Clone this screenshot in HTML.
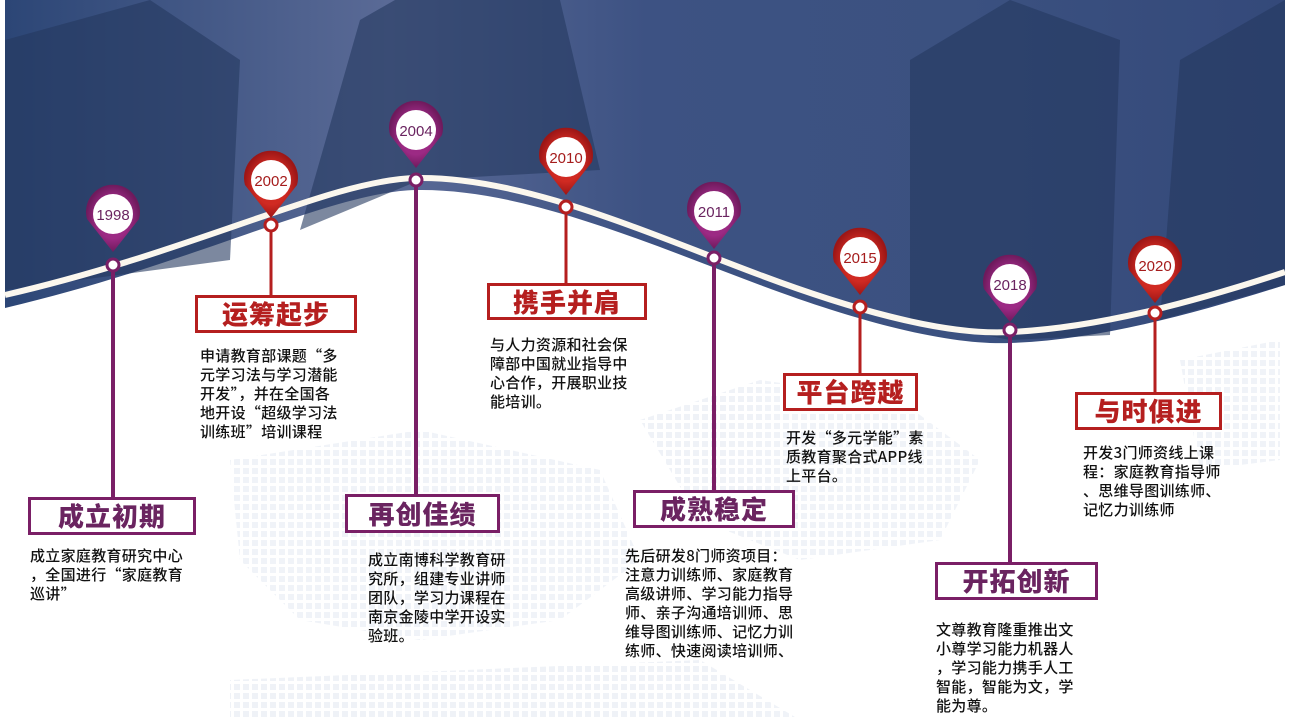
<!DOCTYPE html>
<html><head><meta charset="utf-8"><style>
body{margin:0;width:1289px;height:728px;overflow:hidden;background:#fff;font-family:"Noto Sans CJK SC",sans-serif;}
svg{position:absolute;left:0;top:0}
.t{position:absolute;font-size:15px;line-height:19px;color:#111;font-weight:500;white-space:nowrap;letter-spacing:0.3px}
.b{position:absolute;box-sizing:border-box;border:3px solid;background:#fff;font-size:26px;font-weight:900;text-align:center;letter-spacing:1px;font-family:"Noto Sans CJK SC",sans-serif}
.p{border-color:#7a1f66;color:#6a2460}.r{border-color:#b51f1f;color:#b51f1f}
</style></head><body>
<svg width="1289" height="728">
<defs>
<linearGradient id="bg" x1="0" y1="0" x2="1" y2="0">
<stop offset="0" stop-color="#2c4676"/><stop offset="0.3" stop-color="#5a6a96"/><stop offset="0.5" stop-color="#3d5283"/><stop offset="0.75" stop-color="#3b5180"/><stop offset="1" stop-color="#34497a"/></linearGradient>
<radialGradient id="pg"><stop offset="0.6" stop-color="#9c2a84"/><stop offset="1" stop-color="#6e1a5c"/></radialGradient>
<radialGradient id="rg"><stop offset="0.6" stop-color="#d02a22"/><stop offset="1" stop-color="#9c1616"/></radialGradient>
<pattern id="dots" width="9" height="9" patternUnits="userSpaceOnUse"><rect width="6" height="6" fill="#e6ebf3"/></pattern>
</defs>
<g fill="url(#dots)" opacity="0.6">
<path d="M230,460 L420,430 L600,470 L640,560 L560,620 L420,640 L300,620 L240,560 Z"/>
<path d="M640,420 L760,380 L900,400 L980,460 L940,540 L800,560 L700,520 Z"/>
<path d="M1180,360 L1280,340 L1280,460 L1200,470 Z"/>
<path d="M230,680 L700,660 L800,720 L230,720 Z"/>
</g>
<path d="M5,0 H1285 V285 C1200,312 1100,340 1010,343 C960,345 880,330 760,285 C640,240 520,188 416,190 C330,192 200,262 5,308 Z" fill="url(#bg)"/>
<g fill="#24395f" opacity="0.6">
<polygon points="5,40 150,0 240,60 230,260 5,290"/>
<polygon points="360,20 395,0 560,0 600,170 420,180 300,230"/>
<polygon points="910,60 1010,0 1120,40 1110,335 1010,340 910,320"/>
<polygon points="1180,60 1285,0 1285,285 1160,320"/>
</g>
<path d="M5,295 C200,250 330,180 416,178 C520,176 640,230 760,275 C880,320 960,335 1010,332 C1100,328 1200,300 1285,272" fill="none" stroke="#fbf7ee" stroke-width="6"/>
<g stroke-width="4">
<line x1="113" y1="265" x2="113" y2="497" stroke="#7a1f66"/>
<line x1="271" y1="225" x2="271" y2="295" stroke="#b51f1f" stroke-width="3"/>
<line x1="416" y1="180" x2="416" y2="494" stroke="#7a1f66"/>
<line x1="566" y1="207" x2="566" y2="283" stroke="#b51f1f" stroke-width="3"/>
<line x1="714" y1="258" x2="714" y2="490" stroke="#7a1f66"/>
<line x1="860" y1="307" x2="860" y2="373" stroke="#b51f1f" stroke-width="3"/>
<line x1="1010" y1="330" x2="1010" y2="562" stroke="#7a1f66"/>
<line x1="1155" y1="313" x2="1155" y2="392" stroke="#b51f1f" stroke-width="3"/>
</g>
<g font-family="Liberation Sans,sans-serif" font-size="15" text-anchor="middle">
<g transform="translate(113,214)"><path d="M-26,5 A27,27 0 1 1 26,5 L0,38 Z" fill="url(#pg)"/><circle r="20" fill="#fff"/><text y="6" fill="#6a2460">1998</text></g>
<g transform="translate(271,180)"><path d="M-26,5 A27,27 0 1 1 26,5 L0,38 Z" fill="url(#rg)"/><circle r="20" fill="#fff"/><text y="6" fill="#a51c1c">2002</text></g>
<g transform="translate(416,130)"><path d="M-26,5 A27,27 0 1 1 26,5 L0,38 Z" fill="url(#pg)"/><circle r="20" fill="#fff"/><text y="6" fill="#6a2460">2004</text></g>
<g transform="translate(566,157)"><path d="M-26,5 A27,27 0 1 1 26,5 L0,38 Z" fill="url(#rg)"/><circle r="20" fill="#fff"/><text y="6" fill="#a51c1c">2010</text></g>
<g transform="translate(714,211)"><path d="M-26,5 A27,27 0 1 1 26,5 L0,38 Z" fill="url(#pg)"/><circle r="20" fill="#fff"/><text y="6" fill="#6a2460">2011</text></g>
<g transform="translate(860,257)"><path d="M-26,5 A27,27 0 1 1 26,5 L0,38 Z" fill="url(#rg)"/><circle r="20" fill="#fff"/><text y="6" fill="#a51c1c">2015</text></g>
<g transform="translate(1010,284)"><path d="M-26,5 A27,27 0 1 1 26,5 L0,38 Z" fill="url(#pg)"/><circle r="20" fill="#fff"/><text y="6" fill="#6a2460">2018</text></g>
<g transform="translate(1155,265)"><path d="M-26,5 A27,27 0 1 1 26,5 L0,38 Z" fill="url(#rg)"/><circle r="20" fill="#fff"/><text y="6" fill="#a51c1c">2020</text></g>
</g>
<g fill="#fff" stroke-width="3">
<circle cx="113" cy="265" r="6" stroke="#7a1f66"/>
<circle cx="271" cy="225" r="6" stroke="#b51f1f"/>
<circle cx="416" cy="180" r="6" stroke="#7a1f66"/>
<circle cx="566" cy="207" r="6" stroke="#b51f1f"/>
<circle cx="714" cy="258" r="6" stroke="#7a1f66"/>
<circle cx="860" cy="307" r="6" stroke="#b51f1f"/>
<circle cx="1010" cy="330" r="6" stroke="#7a1f66"/>
<circle cx="1155" cy="313" r="6" stroke="#b51f1f"/>
</g>
</svg>
<div class="b p" style="left:28px;top:497px;width:168px;height:38px;line-height:32px">成立初期</div>
<div class="b r" style="left:195px;top:295px;width:162px;height:38px;line-height:32px">运筹起步</div>
<div class="b p" style="left:345px;top:494px;width:155px;height:39px;line-height:33px">再创佳绩</div>
<div class="b r" style="left:487px;top:283px;width:160px;height:37px;line-height:31px">携手并肩</div>
<div class="b p" style="left:633px;top:490px;width:162px;height:38px;line-height:32px">成熟稳定</div>
<div class="b r" style="left:783px;top:373px;width:135px;height:38px;line-height:32px">平台跨越</div>
<div class="b p" style="left:935px;top:562px;width:163px;height:38px;line-height:32px">开拓创新</div>
<div class="b r" style="left:1075px;top:392px;width:147px;height:38px;line-height:32px">与时俱进</div>
<div class="t" style="left:30px;top:546px">成立家庭教育研究中心<br>，全国进行“家庭教育<br>巡讲”</div>
<div class="t" style="left:200px;top:346px">申请教育部课题“多<br>元学习法与学习潜能<br>开发”，并在全国各<br>地开设“超级学习法<br>训练班”培训课程</div>
<div class="t" style="left:368px;top:550px">成立南博科学教育研<br>究所，组建专业讲师<br>团队，学习力课程在<br>南京金陵中学开设实<br>验班。</div>
<div class="t" style="left:490px;top:335px">与人力资源和社会保<br>障部中国就业指导中<br>心合作，开展职业技<br>能培训。</div>
<div class="t" style="left:625px;top:546px">先后研发8门师资项目：<br>注意力训练师、家庭教育<br>高级讲师、学习能力指导<br>师、亲子沟通培训师、思<br>维导图训练师、记忆力训<br>练师、快速阅读培训师、</div>
<div class="t" style="left:786px;top:428px">开发“多元学能”素<br>质教育聚合式APP线<br>上平台。</div>
<div class="t" style="left:936px;top:620px">文尊教育隆重推出文<br>小尊学习能力机器人<br>，学习能力携手人工<br>智能，智能为文，学<br>能为尊。</div>
<div class="t" style="left:1083px;top:443px">开发3门师资线上课<br>程：家庭教育指导师<br>、思维导图训练师、<br>记忆力训练师</div>
</body></html>
